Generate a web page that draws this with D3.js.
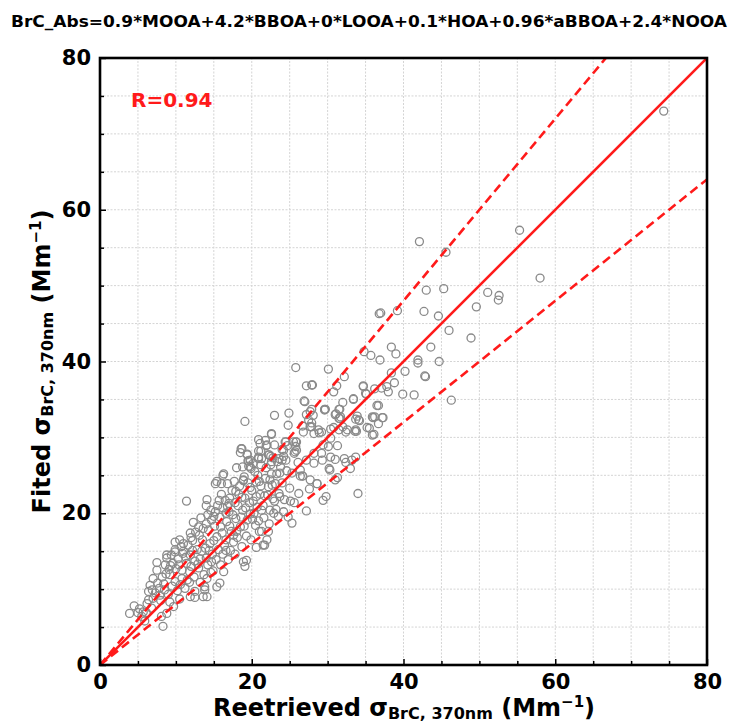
<!DOCTYPE html>
<html><head><meta charset="utf-8">
<script src="https://cdn.jsdelivr.net/npm/d3@7"></script>
<style>body{margin:0;background:#fff}</style>
</head><body>
<svg id="chart" width="730" height="725"></svg>
<script>
const title = "BrC_Abs=0.9*MOOA+4.2*BBOA+0*LOOA+0.1*HOA+0.96*aBBOA+2.4*NOOA";
const majorTicks = [0, 20, 40, 60, 80];
const minorTicks = [5, 10, 15, 25, 30, 35, 45, 50, 55, 65, 70, 75];
const gridValues = [5,10,15,20,25,30,35,40,45,50,55,60,65,70,75];
const refSlopes = [1.0, 1.2, 0.8];
const rLabel = "R=0.94";
// [retrieved, fitted]
const observations = [
[3.9,6.8],[4.5,7.8],[5.0,6.9],[5.5,6.4],[5.9,5.8],[6.2,8.1],[6.8,7.5],[6.4,8.6],[7.0,8.8],[7.9,9.2],
[8.8,6.8],[8.1,6.4],[8.3,5.1],[9.7,7.7],[6.6,10.5],[6.4,9.7],[7.0,11.4],[7.6,10.8],[7.5,13.5],[7.5,12.5],
[8.6,13.2],[8.8,14.1],[9.4,14.5],[9.9,14.9],[8.2,11.6],[9.2,11.9],[9.9,11.0],[10.8,11.4],[11.2,10.1],[11.5,11.2],
[10.8,12.5],[11.4,13.4],[11.9,14.5],[12.5,13.7],[12.5,9.7],[13.6,9.0],[12.5,8.9],[13.8,10.3],[14.1,11.4],[14.6,12.2],
[5.2,7.4],[5.7,7.0],[6.1,6.9],[7.3,9.5],[8.0,8.5],[8.5,9.9],[9.0,9.3],[9.5,10.4],[10.2,9.8],[10.5,8.7],
[10.0,12.7],[9.3,13.1],[8.7,12.0],[10.3,14.0],[11.0,15.0],[11.6,15.8],[12.2,16.4],[10.9,14.7],[9.9,16.2],[10.5,16.5],
[8.8,14.5],[9.9,15.2],[11.0,16.0],[11.9,17.4],[13.1,17.1],[13.6,18.0],[12.3,18.8],[14.7,19.1],[15.2,20.2],[16.8,20.9],
[14.1,21.8],[14.0,21.0],[11.4,21.6],[15.7,21.7],[16.5,21.7],[17.1,22.0],[18.3,22.5],[16.3,25.2],[15.2,23.9],[16.0,23.9],
[16.8,23.9],[17.7,24.2],[18.9,24.3],[18.6,28.5],[19.4,27.7],[19.5,26.9],[19.6,26.2],[20.4,25.5],
[12.8,15.2],[13.2,14.0],[13.5,16.5],[13.9,15.4],[14.3,17.8],[14.5,16.0],[14.8,14.6],[15.1,18.3],[15.4,16.9],[15.8,19.5],
[16.1,17.4],[16.4,15.8],[16.7,18.9],[17.0,20.2],[17.3,17.6],[17.6,16.2],[17.9,19.3],[18.2,21.0],[18.5,18.2],[18.8,20.4],
[19.1,22.0],[19.4,19.1],[19.7,21.4],[20.0,23.0],[20.3,20.0],[20.6,22.2],[20.9,19.0],[21.2,23.6],[21.5,21.0],[21.8,24.6],
[22.1,22.4],[22.4,20.4],[22.7,23.7],[23.0,21.6],[23.3,25.2],[23.6,22.6],[24.0,24.0],[24.3,21.8],[24.6,25.6],[12.0,13.0],
[12.4,11.6],[13.0,12.8],[13.7,11.9],[14.2,13.2],[14.9,12.4],[15.3,13.9],[15.9,13.2],[16.2,14.6],[16.9,13.9],[17.2,15.1],
[17.8,14.6],[18.1,16.8],[18.7,15.6],[19.3,17.0],[19.9,16.5],[20.5,18.4],[21.0,17.6],[21.6,19.4],[22.3,18.6],[22.9,20.0],
[23.5,19.6],[15.4,10.3],[15.8,10.8],[16.3,12.3],[18.9,13.6],[19.1,13.0],[14.1,9.0],[13.8,9.9],[11.9,9.0],[21.5,15.8],
[22.0,16.5],[12.0,16.8],[12.6,17.5],[13.3,19.4],[14.0,18.6],[14.6,20.4],[15.5,21.0],[16.0,22.5],[16.6,20.0],[17.4,23.0],
[17.8,21.4],[18.4,23.6],[18.0,26.0],[19.0,24.8],[19.8,23.4],[20.2,26.6],[20.8,25.0],[21.2,28.2],[21.9,26.0],[22.5,27.5],
[23.0,29.0],[23.4,26.8],[24.0,28.4],[24.5,27.0],[21.8,29.6],[22.6,30.4],[18.5,28.0],[19.1,32.1],
[29.8,22.2],[29.4,21.7],[27.2,20.3],[25.1,21.6],[24.8,19.5],[25.3,18.7],[24.2,20.2],[22.2,17.6],[21.3,17.6],[21.7,15.8],
[20.6,15.5],[19.3,13.8],[28.6,23.9],[31.0,24.4],[30.3,25.7],[26.7,24.9],[25.0,23.3],[23.7,22.2],[26.2,22.6],[27.6,23.2],
[25.6,21.4],[23.2,20.5],
[23.0,32.9],[24.9,33.2],[24.8,31.6],[22.6,30.5],[20.9,29.7],[21.9,28.9],[18.7,28.5],[19.8,27.0],[20.9,27.2],[22.2,27.7],
[22.6,26.8],[24.0,27.0],[24.5,29.4],[25.9,29.4],[25.9,28.3],[27.0,34.7],[27.2,36.8],[28.0,36.9],[27.7,33.4],[27.7,31.4],
[15.4,24.2],[16.2,25.0],[19.8,26.1],[21.1,29.2],[20.9,28.2],[20.9,27.4],[22.3,27.7],[19.4,27.8],[19.6,26.9],[21.2,26.4],
[19.9,25.9],[18.8,26.1],[18.9,24.4],[21.0,24.2],[22.4,24.4],[23.7,25.3],
[25.8,39.2],[30.1,39.0],[38.4,41.9],[39.0,41.0],[36.9,40.2],[34.8,41.3],[35.7,40.8],[31.2,36.8],[32.2,38.0],[30.8,36.0],
[34.7,36.7],[35.1,35.7],[36.2,36.4],[37.8,36.7],[38.0,36.0],[38.8,37.2],[38.4,38.5],[40.2,38.7],[39.9,35.7],[26.9,34.8],
[27.2,33.0],[27.9,33.7],[27.5,32.3],[29.7,33.7],[31.6,33.7],[31.7,32.7],[33.4,35.0],[31.0,33.0],[33.9,32.8],[34.1,32.3],
[35.2,31.3],[36.0,32.6],[36.5,34.2],[36.7,31.8],[37.3,32.6],[36.1,30.4],[26.7,31.5],[27.9,31.4],[28.8,31.0],[26.8,30.7],
[28.2,30.5],[29.2,30.7],[30.4,31.1],[30.4,29.9],[31.5,31.0],[32.0,31.4],[32.6,31.0],[33.8,30.8],[31.3,28.9],[29.4,29.0],
[28.2,27.9],[29.2,27.9],[25.8,29.4],[25.8,28.8],[24.4,29.4],[24.2,28.3],[25.6,27.9],[22.0,29.0],[23.6,27.2],[22.8,27.3],
[22.5,26.4],[21.3,27.2],[27.2,27.0],[29.3,27.0],[28.2,26.6],[30.2,25.9],[30.4,27.4],[32.2,27.2],[32.4,26.7],[33.2,27.0],
[33.7,27.4],[33.0,25.9],[31.3,24.7],[26.4,25.7],[25.3,25.3],[26.7,24.9],[23.8,26.1],[22.6,25.2],
[28.1,32.9],[27.9,31.9],[28.9,30.6],[29.6,33.6],[25.5,29.4],[25.7,28.1],[24.7,28.9],[24.2,27.5],[26.1,26.7],[26.4,24.9],
[27.7,24.4],[28.6,23.9],[31.0,27.1],[34.0,22.6],[30.1,28.8],[32.4,30.7],[33.6,30.8],[30.8,31.3],[35.9,30.3],[36.2,32.7],
[35.5,31.2],[33.7,32.4],[31.6,32.5],
[36.8,46.3],[37.0,46.4],[39.2,46.7],[42.7,46.6],[44.6,46.0],[46.0,44.1],[48.9,43.1],[43.6,41.9],[41.9,40.2],[41.9,39.8],
[44.7,40.0],[42.8,38.1],[42.9,38.0],[27.9,36.9],[34.7,36.8],[35.0,35.8],[37.1,36.5],[41.4,35.6],[46.3,34.9],[32.0,34.6],
[33.4,35.1],[29.6,33.7],[31.5,33.7],[36.7,34.2],[35.9,32.7],[37.2,32.6],[34.2,32.2],[33.7,31.0],[31.1,33.1],[31.5,32.5],
[42.1,55.8],[45.6,54.4],[43.0,49.4],[45.3,49.6],[51.1,49.1],[52.6,48.7],[52.5,48.1],[49.6,47.2],[55.3,57.3],[58.0,51.0],
[74.3,73.0],
[6.9,9.9],[7.8,10.1],[8.4,10.7],[9.1,12.6],[9.6,13.4],[10.4,13.2],[10.7,15.6],[11.3,14.2],[11.8,12.3],[12.9,13.3],
[13.4,15.0],[14.0,14.1],[14.4,15.1],[15.0,16.4],[15.6,15.2],[15.9,18.2],[16.6,16.5],[17.1,18.3],[17.5,19.8],[18.0,17.6],
[18.6,19.5],[19.2,20.7],[19.8,19.9],[20.2,21.6],[20.7,20.8],[21.1,22.5],[21.7,22.3],[22.2,23.5],[22.8,21.9],[23.1,23.9],
[12.2,15.1],[13.0,18.2],[14.2,19.8],[15.0,19.6],[16.2,20.7],[17.0,21.3],[17.9,22.9],[18.7,22.1],[19.5,24.0],[20.6,24.1],
[9.2,8.3],[10.6,10.6],[11.8,10.9],[13.2,10.9],[14.7,13.6],[16.6,15.1],[17.6,17.1],[19.0,18.3],[20.1,19.2],[21.3,20.4]
];

const svg = d3.select("#chart");
const W = 730, H = 725;
const x = d3.scaleLinear().domain([0, 80]).range([100, 707]);
const y = d3.scaleLinear().domain([0, 80]).range([665, 58]);
const FONT = "'DejaVu Sans', sans-serif";

svg.append("rect").attr("width", W).attr("height", H).attr("fill", "#fff");

// title
svg.append("text").attr("x", 369).attr("y", 27).attr("text-anchor", "middle")
  .attr("font-family", FONT).attr("font-weight", "bold").attr("font-size", 15.5)
  .attr("textLength", 716).attr("lengthAdjust", "spacingAndGlyphs")
  .text(title);

// grid
const grid = svg.append("g").attr("stroke", "#d4d4d4").attr("stroke-width", 1).attr("stroke-dasharray", "2,1.5");
grid.selectAll("line.v").data(gridValues).join("line").attr("class", "v")
  .attr("x1", d => x(d)).attr("x2", d => x(d)).attr("y1", y(0)).attr("y2", y(80));
grid.selectAll("line.h").data(gridValues).join("line").attr("class", "h")
  .attr("y1", d => y(d)).attr("y2", d => y(d)).attr("x1", x(0)).attr("x2", x(80));

// clip
svg.append("clipPath").attr("id", "plotclip").append("rect")
  .attr("x", x(0)).attr("y", y(80)).attr("width", x(80) - x(0)).attr("height", y(0) - y(80));

// points
svg.append("g").attr("clip-path", "url(#plotclip)")
  .selectAll("circle").data(observations).join("circle")
  .attr("cx", d => x(d[0])).attr("cy", d => y(d[1])).attr("r", 4)
  .attr("fill", "none").attr("stroke", "#8a8a8a").attr("stroke-width", 1.3);

// reference lines
const lines = svg.append("g").attr("clip-path", "url(#plotclip)");
refSlopes.forEach((s, i) => {
  lines.append("line")
    .attr("x1", x(0)).attr("y1", y(0))
    .attr("x2", x(80)).attr("y2", y(80 * s))
    .attr("stroke", "#ff1a1a").attr("stroke-width", 2.6)
    .attr("stroke-dasharray", i === 0 ? null : "9,5");
});

// axes
const xAxisMajor = d3.axisBottom(x).tickValues(majorTicks).tickSize(-6).tickPadding(9).tickFormat(d3.format("d"));
const yAxisMajor = d3.axisLeft(y).tickValues(majorTicks).tickSize(-6).tickPadding(9).tickFormat(d3.format("d"));
const xAxisMinor = d3.axisBottom(x).tickValues(minorTicks).tickSize(-4).tickFormat("");
const yAxisMinor = d3.axisLeft(y).tickValues(minorTicks).tickSize(-4).tickFormat("");

function styleAxis(g) {
  g.select(".domain").remove();
  g.selectAll(".tick line").attr("stroke", "#000").attr("stroke-width", 1.5);
  g.selectAll(".tick text").attr("font-family", FONT).attr("font-weight", "bold")
    .attr("font-size", 21).attr("fill", "#000");
}
svg.append("g").attr("transform", `translate(0,${y(0)})`).call(xAxisMajor).call(styleAxis);
svg.append("g").attr("transform", `translate(${x(0)},0)`).call(yAxisMajor).call(styleAxis);
svg.append("g").attr("transform", `translate(0,${y(0)})`).call(xAxisMinor).call(styleAxis);
svg.append("g").attr("transform", `translate(${x(0)},0)`).call(yAxisMinor).call(styleAxis);

// frame
svg.append("rect").attr("x", x(0)).attr("y", y(80)).attr("width", x(80) - x(0)).attr("height", y(0) - y(80))
  .attr("fill", "none").attr("stroke", "#000").attr("stroke-width", 2.6);

// R label
svg.append("text").attr("x", 131).attr("y", 107)
  .attr("font-family", FONT).attr("font-weight", "bold").attr("font-size", 20)
  .attr("fill", "#ff1a1a").text(rLabel);

// axis labels
function axisLabel(g, main) {
  g.attr("font-family", FONT).attr("font-weight", "bold").attr("font-size", 24).attr("fill", "#000");
  g.append("tspan").text(main + " σ");
  g.append("tspan").attr("font-size", 16).attr("dy", 3).text("BrC, 370nm");
  g.append("tspan").attr("dy", -3).text(" (Mm");
  g.append("tspan").attr("font-size", 15).attr("dy", -9).text("−1");
  g.append("tspan").attr("dy", 9).text(")");
}
const xl = svg.append("text").attr("x", 404).attr("y", 716).attr("text-anchor", "middle");
axisLabel(xl, "Reetrieved");
const yl = svg.append("text").attr("transform", `translate(50,${(y(0) + y(80)) / 2}) rotate(-90)`).attr("text-anchor", "middle");
axisLabel(yl, "Fited");
</script>
</body></html>
